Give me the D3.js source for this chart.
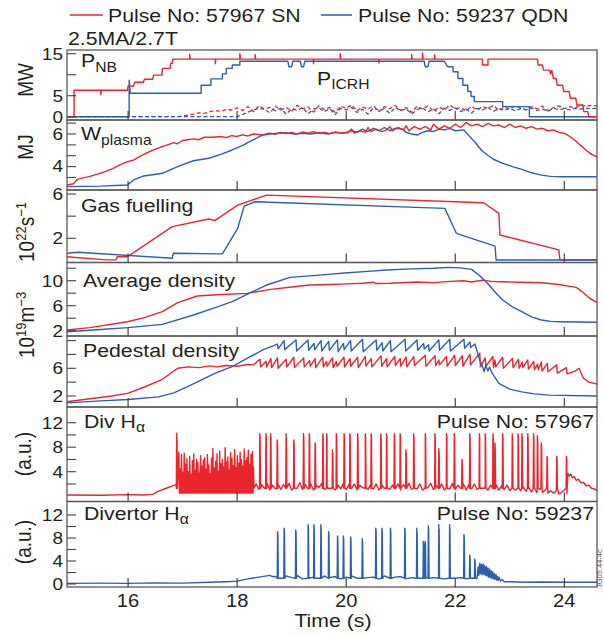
<!DOCTYPE html>
<html><head><meta charset="utf-8">
<script src="https://cdn.jsdelivr.net/npm/d3@7"></script>
<style>
body{margin:0;background:#fff}
svg{display:block}
text{font-family:"Liberation Sans",Arial,Helvetica,sans-serif;fill:#231f20}
</style>
</head><body>
<svg id="c" width="604" height="636"></svg>
<script>
// ---------------- DATA ----------------
const timeTicks = [16, 18, 20, 22, 24];
const legendNames = ["Pulse No: 57967 SN", "Pulse No: 59237 QDN"];

// Panel 1: heating power (MW)
const nbRed = [[14.88,0],[15.01,0],[15.01,6.3],[15.5,6.3],[15.5,5.3],[15.51,6.3],[15.99,6.3],[16.0,7.3],[16.1,7.3],[16.12,8.2],[16.28,8.2],[16.3,8.9],[16.45,8.9],[16.47,9.9],[16.62,9.9],[16.63,11.5],[16.77,11.5],[16.78,12.7],[16.81,12.7],[16.82,13.7],[17.13,13.7],[17.13,14.9],[17.14,13.7],[17.6,13.7],[17.6,12.6],[17.61,13.7],[18.05,13.7],[18.05,15.0],[18.06,13.7],[18.33,13.7],[18.33,14.8],[18.34,13.7],[19.4,13.7],[19.4,12.6],[19.41,13.7],[19.89,13.7],[19.89,15.0],[19.9,13.7],[20.6,13.7],[20.6,12.8],[20.61,13.7],[21.2,13.7],[21.2,14.8],[21.21,13.7],[21.4,13.7],[21.4,15.2],[21.41,13.7],[21.62,13.7],[21.62,14.7],[21.63,13.7],[22.5,13.7],[22.5,12.3],[22.6,12.3],[22.6,13.7],[23.51,13.7],[23.52,12.3],[23.6,12.3],[23.62,11.1],[23.73,11.1],[23.75,10.2],[23.77,11.0],[23.8,9.1],[23.85,9.1],[23.87,7.5],[23.97,7.5],[23.99,6.0],[24.09,6.0],[24.11,4.4],[24.21,4.4],[24.23,2.8],[24.34,2.8],[24.36,1.2],[24.43,1.2],[24.45,0],[24.6,0]];
const icrhBlue = [[14.88,0],[16.02,0],[16.02,8.7],[16.04,5.6],[17.34,5.6],[17.34,7.5],[17.52,7.5],[17.52,9.0],[17.73,9.0],[17.73,10.2],[17.8,10.2],[17.8,11.5],[17.91,11.5],[17.91,12.3],[18.05,12.3],[18.05,13.2],[18.93,13.2],[18.95,11.9],[19.0,11.9],[19.02,13.2],[19.16,13.2],[19.18,11.9],[19.22,11.9],[19.24,13.2],[21.43,13.2],[21.45,11.9],[21.5,11.9],[21.52,13.2],[21.8,13.2],[21.86,11.9],[21.96,11.9],[21.96,10.7],[22.05,10.7],[22.05,9.1],[22.14,9.1],[22.14,7.5],[22.23,7.5],[22.23,6.0],[22.29,6.0],[22.29,4.8],[22.35,4.8],[22.35,3.6],[22.87,3.6],[22.87,2.4],[23.36,2.4],[23.36,0],[24.6,0]];
const radRedStart = 16.9, radRedStep = 0.1;
const radRed = [0.0,0.2,0.4,0.6,0.9,0.8,1.2,1.4,1.3,1.7,1.6,2.1,1.5,2.4,1.2,2.6,1.8,0.9,2.5,1.6,2.2,1.3,2.7,1.9,2.3,1.1,2.6,1.7,2.2,1.0,2.5,2.0,2.8,1.4,2.3,1.8,2.6,1.2,2.4,1.9,2.7,1.5,2.2,1.0,2.5,1.8,2.6,1.3,2.3,1.7,2.8,1.9,2.2,1.4,2.5,1.6,2.4,2.0,2.7,1.5,2.3,1.8,2.6,2.1,1.6,2.4,1.9,2.5,1.4,2.2,2.6,1.9,2.4,2.1,2.8,2.5,2.7,2.6];
const radBlueStart = 18.0, radBlueStep = 0.1;
const radBlue = [0.0,0.5,1.1,1.6,2.0,1.8,2.2,1.4,2.0,0.6,1.9,1.5,2.2,0.7,1.8,2.1,1.2,1.9,0.5,2.0,1.6,2.2,1.0,1.8,0.6,2.1,1.5,1.9,0.8,2.2,1.4,1.9,0.6,1.7,2.1,1.1,1.9,0.7,2.0,1.5,2.1,1.2,1.8,0.9,2.0,1.6,2.2,1.3,1.9,1.5,2.0,1.4,1.9,1.7,2.1,1.5,1.8,1.3,2.0,1.7,1.9,1.6,2.0,1.8,2.0,1.9,2.0];

// Panel 2: W plasma (MJ)
const wRed = [[14.88,2.87],[15.0,2.95],[15.07,3.22],[15.3,3.4],[15.5,3.6],[15.7,3.85],[15.85,4.1],[15.99,4.3],[16.1,4.4],[16.21,4.61],[16.35,4.85],[16.49,5.06],[16.6,5.2],[16.7,5.3],[16.84,5.47],[16.9,5.4],[17.0,5.6],[17.06,5.63],[17.2,5.7],[17.3,5.65],[17.4,5.8],[17.55,5.8],[17.7,5.85],[17.8,5.78],[17.9,5.9],[18.0,5.85],[18.1,5.95],[18.2,5.88],[18.3,6.0],[18.47,5.94],[18.6,6.05],[18.7,5.98],[18.8,6.1],[18.9,6.02],[19.0,6.1],[19.1,6.0],[19.2,6.12],[19.3,6.05],[19.4,6.15],[19.5,6.05],[19.6,6.1],[19.7,6.02],[19.8,6.12],[19.9,6.05],[20.03,6.08],[20.1,6.3],[20.15,6.05],[20.25,6.2],[20.35,6.1],[20.4,6.4],[20.45,6.15],[20.55,6.3],[20.65,6.15],[20.74,6.25],[20.8,6.45],[20.85,6.2],[20.95,6.4],[21.05,6.25],[21.1,6.5],[21.15,6.2],[21.25,6.45],[21.35,6.3],[21.45,6.45],[21.55,6.25],[21.6,6.6],[21.7,6.3],[21.8,6.5],[21.9,6.35],[22.0,6.6],[22.1,6.4],[22.2,6.7],[22.3,6.5],[22.4,6.6],[22.5,6.45],[22.6,6.65],[22.7,6.5],[22.8,6.55],[22.9,6.4],[23.0,6.6],[23.1,6.4],[23.2,6.5],[23.3,6.35],[23.4,6.45],[23.5,6.3],[23.6,6.35],[23.7,6.2],[23.8,6.25],[23.9,6.1],[24.0,6.05],[24.1,5.85],[24.2,5.6],[24.3,5.3],[24.4,5.0],[24.5,4.75],[24.6,4.6]];
const wBlue = [[14.88,2.77],[15.5,2.8],[15.99,2.87],[16.1,3.18],[16.28,3.42],[16.45,3.5],[16.63,3.59],[16.8,3.85],[16.99,4.1],[17.2,4.36],[17.48,4.51],[17.7,4.75],[17.91,5.02],[18.1,5.3],[18.3,5.65],[18.47,5.94],[18.6,6.0],[18.75,6.05],[18.9,6.08],[19.05,6.0],[19.2,6.05],[19.35,6.0],[19.5,6.08],[19.68,6.0],[19.8,6.1],[19.95,6.05],[20.1,6.2],[20.2,6.1],[20.3,6.3],[20.39,6.15],[20.5,6.35],[20.6,6.2],[20.7,6.4],[20.8,6.2],[20.9,6.35],[21.03,6.3],[21.1,6.1],[21.2,6.0],[21.31,5.94],[21.4,6.1],[21.5,6.2],[21.6,6.15],[21.7,6.3],[21.81,6.25],[21.9,6.35],[22.0,6.2],[22.16,6.25],[22.25,5.9],[22.38,5.43],[22.48,5.0],[22.59,4.71],[22.7,4.45],[22.87,4.2],[23.05,4.0],[23.22,3.83],[23.4,3.62],[23.58,3.48],[23.75,3.4],[23.93,3.38],[24.6,3.38]];

// Panel 3: gas fuelling (1e22 /s)
const gasRed = [[14.88,0.34],[15.6,0.05],[15.78,0.05],[15.8,0.34],[15.99,0.34],[16.81,3.05],[17.48,3.74],[17.59,3.59],[18.01,5.0],[18.54,5.9],[22.52,5.21],[22.8,4.25],[22.82,2.3],[23.9,0.95],[23.92,0.05],[24.6,0.05]];
const gasBlue = [[14.88,0.65],[15.08,0.74],[16.81,0.2],[16.83,0.65],[17.73,0.59],[18.01,2.9],[18.13,4.91],[18.33,5.3],[21.81,4.7],[22.02,2.45],[22.73,1.3],[22.75,0.04],[24.6,0.04]];

// Panel 4: average density (1e19 m^-3)
const avgRed = [[14.88,2.11],[15.3,2.5],[15.99,3.44],[16.3,4.1],[16.63,5.04],[16.91,6.48],[17.27,7.55],[17.7,7.8],[18.19,7.98],[18.62,8.62],[19.0,9.0],[19.33,9.31],[19.7,9.4],[20.0,9.5],[20.3,9.6],[20.5,9.75],[20.55,9.55],[20.8,9.6],[21.0,9.68],[21.3,9.8],[21.6,9.7],[21.9,9.9],[22.15,10.0],[22.3,9.8],[22.5,10.1],[22.7,9.85],[22.87,9.84],[23.2,9.75],[23.58,9.68],[23.9,9.4],[24.1,9.1],[24.22,8.93],[24.33,8.24],[24.45,7.3],[24.6,6.48]];
const avgBlue = [[14.88,1.84],[15.5,2.2],[16.0,2.5],[16.63,3.02],[17.2,4.51],[17.6,5.7],[17.91,6.64],[18.2,7.9],[18.54,9.31],[18.97,10.54],[19.5,10.9],[20.03,11.28],[20.4,11.5],[20.74,11.71],[21.2,11.9],[21.6,12.0],[21.88,12.14],[22.1,12.05],[22.3,11.82],[22.45,10.8],[22.59,9.58],[22.75,8.0],[22.87,6.91],[23.05,5.8],[23.22,5.04],[23.4,4.2],[23.58,3.71],[23.75,3.5],[23.93,3.44],[24.6,3.34]];

// Panel 5: pedestal density; ELM rows are [time, value before crash, value after crash]
const pedRedPre = [[14.88,1.16],[15.3,1.6],[15.7,2.0],[15.99,2.38],[16.3,3.3],[16.63,4.41],[16.8,5.4],[16.91,6.0],[17.1,6.2],[17.3,6.1],[17.5,6.35],[17.62,6.2],[17.8,6.4],[18.0,6.3],[18.2,6.55],[18.3,6.5]];
const pedRedElms = [[18.42,7.3,6.2],[18.53,7.0,6.2],[18.62,7.4,6.1],[18.74,7.5,6.0],[18.90,7.3,6.2],[19.04,7.6,6.1],[19.22,7.5,6.2],[19.33,7.1,6.3],[19.43,7.4,6.1],[19.57,7.6,6.2],[19.64,7.0,6.3],[19.75,7.5,6.1],[19.82,7.0,6.3],[19.96,7.6,6.2],[20.07,7.4,6.3],[20.21,7.6,6.1],[20.35,7.7,6.3],[20.46,7.4,6.2],[20.64,7.8,6.3],[20.74,7.4,6.2],[20.89,7.7,6.4],[20.99,7.4,6.3],[21.10,7.6,6.2],[21.24,7.7,6.4],[21.45,7.9,6.3],[21.63,7.8,6.4],[21.70,7.2,6.5],[21.84,7.7,6.3],[21.99,7.9,6.4],[22.13,7.8,6.3],[22.27,8.0,6.5],[22.45,8.2,6.2],[22.55,7.5,6.3],[22.69,7.7,6.1],[22.73,7.2,6.2],[22.87,7.6,6.0],[23.05,7.4,6.1],[23.16,7.3,6.0],[23.23,6.9,6.1],[23.33,7.2,5.9],[23.44,7.0,5.8],[23.51,6.6,5.8],[23.58,6.9,5.6],[23.69,6.7,5.5],[23.86,6.5,5.3],[24.04,6.1,5.2]];
const pedRedPost = [[24.2,5.6],[24.27,6.0],[24.35,4.6],[24.45,4.0],[24.6,3.72]];
const pedBluePre = [[14.88,1.01],[15.5,1.3],[16.0,1.5],[16.56,1.88],[16.84,2.46],[17.1,3.4],[17.34,4.3],[17.6,5.3],[17.91,6.23],[18.2,7.5],[18.47,8.65],[18.65,9.2]];
const pedBlueElms = [[18.74,9.5,8.8],[18.86,10.0,8.7],[19.08,10.1,8.5],[19.30,10.1,8.6],[19.41,9.6,8.7],[19.54,10.0,8.5],[19.68,9.9,8.6],[19.84,10.1,8.4],[19.95,9.6,8.7],[20.08,10.0,8.5],[20.30,10.2,8.4],[20.55,10.1,8.6],[20.66,9.7,8.5],[20.81,10.0,8.4],[21.08,10.2,8.5],[21.30,10.1,8.6],[21.42,9.6,8.8],[21.51,9.4,8.5],[21.70,10.1,8.6],[21.90,10.2,8.5],[22.16,10.2,8.9],[22.27,9.8,9.0]];
const pedBluePost = [[22.36,9.5],[22.45,7.2],[22.5,6.3],[22.53,5.5],[22.56,6.4],[22.6,5.6],[22.63,6.2],[22.67,5.4],[22.8,3.82],[23.0,3.0],[23.22,2.6],[23.45,2.3],[23.72,2.13],[24.6,1.99]];

// Panel 6: Div H-alpha, pulse 57967 (a.u.)
const divRedPre = [[14.88,0.2],[15.5,0.15],[16.0,0.25],[16.3,0.2],[16.45,0.3],[16.55,0.8],[16.7,1.3],[16.88,1.9]];
const divRedBurstStart = 16.93, divRedBurstStep = 0.025, divRedBurstFloor = 0.5;
const divRedBurstTops = [7.2,4.5,6.8,3.9,7.0,5.2,6.1,4.0,6.5,3.5,5.8,6.9,4.2,6.0,5.5,3.8,6.6,4.9,5.9,6.3,4.4,6.8,5.1,3.7,6.2,7.8,4.6,5.7,6.9,4.1,7.4,5.3,6.0,4.8,7.9,5.6,6.4,4.3,7.1,6.2,5.0,7.6,4.7,6.6,5.4,7.2,6.0,4.9,7.7,5.8,6.3,7.5,5.2,6.8,7.3];
const divRedBaseStart = 18.3, divRedBaseStep = 0.05;
const divRedBase = [1.4,2.0,1.1,1.9,1.3,2.1,1.0,1.8,1.2,2.0,1.1,1.9,1.4,2.1,1.0,1.8,1.3,2.2,1.1,1.9,1.2,2.0,1.0,1.8,1.4,2.1,1.1,1.9,1.3,2.0,1.0,1.8,1.2,2.1,1.1,1.9,1.3,2.0,1.0,1.8,1.4,2.1,1.1,1.9,1.2,2.0,1.0,1.9,1.3,2.1,1.1,1.8,1.2,2.0,1.0,1.9,1.3,2.1,1.1,1.8,1.2,2.0,1.0,1.9,1.4,2.1,1.1,1.8,1.3,2.0,1.0,1.9,1.2,2.1,1.1,1.8,1.3,2.0,1.0,1.9,1.2,2.0,1.1,1.8,1.3,1.9,1.0,1.8,1.2,1.9,1.0,1.7,1.1,1.8,0.9,1.7,1.0,1.6,0.9,1.5,0.8,1.4,0.7,1.3,0.6,1.1,0.6,1.0,0.5,0.9,0.5,0.8,0.4,0.6];
const divRedSpikes = [[16.893,10.3],[18.297,4.9],[18.418,10.2],[18.531,10.2],[18.616,10.2],[18.737,9.2],[18.900,10.2],[19.042,9.2],[19.219,10.2],[19.325,10.2],[19.432,8.7],[19.574,10.2],[19.644,10.2],[19.751,7.6],[19.822,10.2],[19.964,10.2],[20.070,10.2],[20.212,10.2],[20.353,10.2],[20.460,10.2],[20.637,10.2],[20.743,10.2],[20.885,10.2],[20.992,10.2],[21.098,7.6],[21.240,10.2],[21.453,10.2],[21.630,10.2],[21.701,7.8],[21.843,10.2],[21.985,10.2],[22.126,6.0],[22.268,10.2],[22.445,10.2],[22.552,10.2],[22.694,10.2],[22.729,8.7],[22.871,10.2],[23.048,10.2],[23.155,10.2],[23.226,10.2],[23.332,10.2],[23.438,10.2],[23.509,9.9],[23.580,8.7],[23.686,6.5],[23.863,6.5],[24.041,6.5]];
const divRedEnd = [[24.05,0.4],[24.07,3.7],[24.1,3.3],[24.12,3.6],[24.15,3.0],[24.18,3.2],[24.22,2.6],[24.26,2.8],[24.3,2.2],[24.35,2.3],[24.4,1.7],[24.45,1.8],[24.5,1.3],[24.55,1.2],[24.6,0.9]];

// Panel 7: Divertor H-alpha, pulse 59237 (a.u.)
const divBluePre = [[14.88,0.1],[15.5,0.15],[16.0,0.1],[16.5,0.2],[17.0,0.15],[17.5,0.3],[17.8,0.4],[18.0,0.5],[18.2,0.9],[18.4,1.2],[18.6,1.5],[18.65,1.3]];
const divBlueBaseStart = 18.7, divBlueBaseStep = 0.1;
const divBlueBase = [1.3,1.0,1.4,1.1,1.5,0.9,1.3,1.2,1.0,1.4,1.1,1.3,0.9,1.2,1.4,1.0,1.3,1.1,1.2,0.9,1.4,1.0,1.2,1.3,0.9,1.1,1.4,1.0,1.2,1.1,1.3,0.9,1.2,1.0,1.1,0.9];
const divBlueSpikes = [[18.744,9.1],[18.864,9.7],[19.077,9.4],[19.304,10.3],[19.410,10.3],[19.538,10.3],[19.680,9.1],[19.843,8.35],[19.950,8.35],[20.084,8.2],[20.297,7.9],[20.545,9.7],[20.658,9.7],[20.814,9.7],[21.077,9.7],[21.297,9.7],[21.417,7.4],[21.450,7.4],[21.509,10.1],[21.701,10.3],[21.899,10.3],[22.162,8.6],[22.268,5.0],[22.360,4.3]];
const divBlueHump = [[22.40,1.0],[22.42,3.0],[22.43,1.5],[22.45,3.6],[22.46,1.8],[22.48,3.4],[22.49,1.6],[22.51,3.5],[22.52,1.7],[22.54,3.2],[22.55,1.5],[22.57,3.0],[22.58,1.4],[22.60,2.8],[22.61,1.2],[22.63,2.6],[22.64,1.1],[22.66,2.3],[22.67,1.0],[22.69,2.1],[22.70,0.9],[22.72,1.8],[22.73,0.8],[22.75,1.6],[22.76,0.7],[22.78,1.3],[22.79,0.6],[22.81,1.1],[22.83,0.5],[22.86,0.8],[22.90,0.4]];
const divBluePost = [[22.95,0.4],[23.3,0.3],[23.6,0.35],[24.0,0.3],[24.6,0.3]];

// ---------------- DRAWING ----------------
const RED = "#e9262b", BLUE = "#2c5fae", FRAME = "#5a5a5a";
const SX = 1.12;
const svg = d3.select("#c");
const x = d3.scaleLinear().domain([14.88, 24.6]).range([67, 597]);

const panels = [
  {top:50, bottom:120, y:d3.scaleLinear().domain([0,15]).range([116.7,53.7]), ticks:[0,5,10,15], labels:[0,5,15]},
  {top:120, bottom:190, y:d3.scaleLinear().domain([4,6]).range([166.6,134]), ticks:[3.333,4,4.667,5.333,6,6.667], labels:[4,6]},
  {top:190, bottom:262.5, y:d3.scaleLinear().domain([2,6]).range([238.3,194]), ticks:[2,4,6], labels:[2,6]},
  {top:262.5, bottom:336, y:d3.scaleLinear().domain([2,10]).range([330.7,280.7]), ticks:[2,4,6,8,10,12], labels:[2,6,10]},
  {top:336, bottom:407, y:d3.scaleLinear().domain([2,6]).range([396,368.3]), ticks:[2,4,6,8,10], labels:[2,6]},
  {top:407, bottom:501.5, y:d3.scaleLinear().domain([4,12]).range([471.7,422.7]), ticks:[2,4,6,8,10,12], labels:[4,8,12]},
  {top:501.5, bottom:587, y:d3.scaleLinear().domain([0,12]).range([584,515]), ticks:[0,2,4,6,8,10,12], labels:[0,4,8,12]}
];

const defs = svg.append("defs");
panels.forEach((p,i)=>{
  defs.append("clipPath").attr("id","clip"+i).append("rect")
    .attr("x",x.range()[0]).attr("y",p.top).attr("width",x.range()[1]-x.range()[0]).attr("height",p.bottom-p.top);
});

function grid(t0, step, vals){ return vals.map((v,i)=>[t0+i*step, v]); }
function sawtooth(pre, elms, post){
  return pre.concat(elms.flatMap(([t,pk,tr])=>[[t,pk],[t+0.012,tr]])).concat(post);
}
function spikes(list, base){
  return list.flatMap(([t,top])=>[[t-0.008,base],[t-0.002,top],[t+0.004,top*0.93],[t+0.011,base]]);
}
function byTime(a,b){ return a[0]-b[0]; }

function draw(i, data, color, dashed, w){
  const p = panels[i];
  const line = d3.line().x(d=>x(d[0])).y(d=>p.y(d[1]));
  svg.append("path").attr("clip-path","url(#clip"+i+")")
    .datum(data).attr("d", line)
    .attr("fill","none").attr("stroke",color).attr("stroke-width", w||1.4)
    .attr("stroke-linejoin","round")
    .attr("stroke-dasharray", dashed ? "4,2.5" : null);
}

// Panel 1
draw(0, [[14.88,0],[radRedStart,0]].concat(grid(radRedStart, radRedStep, radRed)), RED, true, 1.3);
draw(0, [[14.88,0],[radBlueStart,0]].concat(grid(radBlueStart, radBlueStep, radBlue)), BLUE, true, 1.3);
draw(0, icrhBlue, BLUE);
draw(0, nbRed, RED);
// Panel 2
draw(1, wBlue, BLUE);
draw(1, wRed, RED);
// Panel 3
draw(2, gasRed, RED);
draw(2, gasBlue, BLUE);
// Panel 4
draw(3, avgRed, RED);
draw(3, avgBlue, BLUE);
// Panel 5
draw(4, sawtooth(pedRedPre, pedRedElms, pedRedPost), RED);
draw(4, sawtooth(pedBluePre, pedBlueElms, pedBluePost), BLUE);
// Panel 6
const burst = grid(divRedBurstStart, divRedBurstStep, divRedBurstTops)
  .flatMap(([t,v])=>[[t,v],[t+divRedBurstStep/2, divRedBurstFloor]]);
const divRedAll = divRedPre.concat(burst, grid(divRedBaseStart, divRedBaseStep, divRedBase),
  spikes(divRedSpikes, 1.3), divRedEnd).sort(byTime);
draw(5, divRedAll, RED, false, 1.4);
// Panel 7
const divBlueAll = divBluePre.concat(grid(divBlueBaseStart, divBlueBaseStep, divBlueBase),
  spikes(divBlueSpikes, 1.0), divBlueHump, divBluePost).sort(byTime);
draw(6, divBlueAll, BLUE, false, 1.4);

// text helper (slightly widened glyphs, as in the reference)
function T(xp, yp, size, anchor, rot){
  return svg.append("text")
    .attr("transform", `translate(${xp},${yp}) scale(${SX},1)` + (rot ? " rotate(-90)" : ""))
    .attr("text-anchor", anchor || "start")
    .style("font-size", size + "px");
}

// frames, ticks, tick labels
panels.forEach((p,i)=>{
  svg.append("rect").attr("x",67).attr("y",p.top).attr("width",530).attr("height",p.bottom-p.top)
    .attr("fill","none").attr("stroke",FRAME).attr("stroke-width",1.3);
  p.ticks.forEach(v=>{
    svg.append("line").attr("x1",67).attr("x2",76).attr("y1",p.y(v)).attr("y2",p.y(v))
      .attr("stroke","#444").attr("stroke-width",1.1);
  });
  p.labels.forEach(v=>{
    T(63, p.y(v)+5.8, 17, "end").text(v);
  });
  timeTicks.forEach(t=>{
    svg.append("line").attr("x1",x(t)).attr("x2",x(t)).attr("y1",p.bottom).attr("y2",p.bottom-9)
      .attr("stroke","#333").attr("stroke-width",1.1);
  });
});
timeTicks.forEach(t=>{ T(x(t), 607, 18, "middle").text(t); });
T(333, 627, 19, "middle").text("Time (s)");

// legend
svg.append("line").attr("x1",70).attr("x2",103).attr("y1",15).attr("y2",15).attr("stroke",RED).attr("stroke-width",1.5);
T(108, 21.5, 19, "start").text(legendNames[0]);
svg.append("line").attr("x1",321).attr("x2",352).attr("y1",15).attr("y2",15).attr("stroke",BLUE).attr("stroke-width",1.5);
T(358, 21.5, 19, "start").text(legendNames[1]);
T(68, 44.5, 19, "start").text("2.5MA/2.7T");

// panel labels
let t;
t = T(81, 67, 19); t.append("tspan").text("P"); t.append("tspan").attr("dy",4.5).style("font-size","14px").text("NB");
t = T(317, 85, 19); t.append("tspan").text("P"); t.append("tspan").attr("dy",4).style("font-size","14px").text("ICRH");
t = T(81, 140, 19); t.append("tspan").text("W"); t.append("tspan").attr("dy",5).style("font-size","14px").text("plasma");
T(81, 212, 19).text("Gas fuelling");
T(83, 286.5, 19).text("Average density");
T(83, 357, 19).text("Pedestal density");
t = T(84, 428, 19); t.append("tspan").text("Div H"); t.append("tspan").attr("dy",4).style("font-size","14px").text("α");
T(594, 428, 19, "end").text("Pulse No: 57967");
t = T(84, 520, 19); t.append("tspan").text("Divertor H"); t.append("tspan").attr("dy",4).style("font-size","14px").text("α");
T(594, 520, 19, "end").text("Pulse No: 59237");

// y titles
T(33, 80, 19, "middle", true).text("MW");
T(33, 147, 19, "middle", true).text("MJ");
t = T(34, 232, 19, "middle", true);
t.append("tspan").text("10"); t.append("tspan").attr("dy",-7).style("font-size","13px").text("22");
t.append("tspan").attr("dy",7).text("s"); t.append("tspan").attr("dy",-7).style("font-size","13px").text("−1");
t = T(34, 325, 19, "middle", true);
t.append("tspan").text("10"); t.append("tspan").attr("dy",-7).style("font-size","13px").text("19");
t.append("tspan").attr("dy",7).text("m"); t.append("tspan").attr("dy",-7).style("font-size","13px").text("−3");
T(31, 454, 19, "middle", true).text("(a.u.)");
T(31, 542, 19, "middle", true).text("(a.u.)");

// figure id at the right edge
svg.append("text").attr("transform","translate(602,588) rotate(-90)").attr("text-anchor","start")
  .style("font-size","7.5px").style("fill","#555").text("JG05.44-4c");
</script>
</body></html>
